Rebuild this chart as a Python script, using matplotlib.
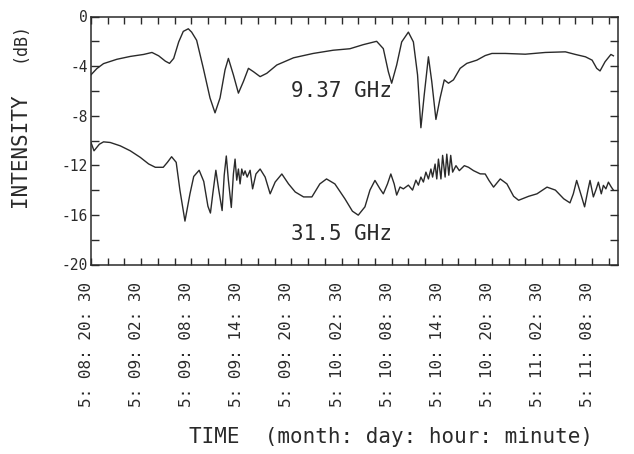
import matplotlib
matplotlib.use('Agg')
import matplotlib.pyplot as plt
import numpy as np

plt.rcParams['font.family'] = 'DejaVu Sans Mono'

# hours after 5:08:20:30, intensity in dB
hours_937 = [0, 0.7, 1.5, 3.1, 4.7, 6.3, 7.3, 8.1, 8.9, 9.4, 9.9, 10.5, 11.05, 11.65,
             12.05, 12.65, 13.45, 14.25, 14.85, 15.45, 16.05, 16.45, 17.05, 17.65,
             18.25, 18.85, 19.45, 20.25, 21.05, 22.25, 24.25, 26.6, 29.0, 31.0, 32.6,
             34.2, 35.0, 35.6, 36.0, 36.6, 37.2, 38.0, 38.6, 39.1, 39.5, 39.9, 40.4,
             40.8, 41.3, 41.8, 42.3, 42.8, 43.4, 44.2, 45.0, 46.2, 47.2, 48.0, 49.6,
             52.0, 54.4, 56.8, 58.0, 59.2, 60.0, 60.55, 60.95, 61.55, 62.25, 62.55]
db_937 = [-4.7, -4.2, -3.8, -3.45, -3.22, -3.06, -2.9, -3.17, -3.6, -3.78, -3.38, -2.05,
          -1.2, -0.99, -1.26, -1.92, -4.18, -6.57, -7.77, -6.57, -4.3, -3.38, -4.71,
          -6.18, -5.24, -4.18, -4.45, -4.85, -4.58, -3.91, -3.33, -2.98, -2.72, -2.6,
          -2.27, -2.0, -2.59, -4.45, -5.38, -3.91, -2.05, -1.26, -2.05, -4.71, -8.97,
          -6.31, -3.25, -5.24, -8.3, -6.57, -5.11, -5.38, -5.11, -4.18, -3.78, -3.52,
          -3.15, -2.98, -2.98, -3.04, -2.9, -2.85, -3.06, -3.25, -3.52, -4.18, -4.39,
          -3.65, -3.06, -3.17]

hours_315 = [0, 0.36, 1.0, 1.5, 2.3, 3.5, 4.7, 5.9, 6.9, 7.7, 8.65, 9.15, 9.65, 10.2,
             10.65, 11.25, 11.85, 12.3, 12.95, 13.5, 14.0, 14.3, 14.6, 14.95, 15.3,
             15.7, 15.95, 16.2, 16.45, 16.8, 17.05, 17.25, 17.45, 17.65, 17.85, 18.05,
             18.25, 18.45, 18.7, 19.05, 19.35, 19.75, 20.25, 20.85, 21.45, 22.05, 22.85,
             23.65, 24.45, 25.45, 26.45, 27.4, 28.2, 29.2, 30.4, 31.3, 32.0, 32.8, 33.4,
             34.0, 34.6, 35.0, 35.5, 35.9, 36.3, 36.6, 37.0, 37.4, 38.0, 38.5, 38.9,
             39.2, 39.5, 39.8, 40.1, 40.4, 40.7, 40.9, 41.2, 41.4, 41.6, 41.9, 42.1,
             42.4, 42.6, 42.84, 43.07, 43.3, 43.7, 44.1, 44.7, 45.2, 45.8, 46.6, 47.2,
             47.65, 48.2, 49.0, 49.8, 50.6, 51.2, 52.4, 53.4, 54.6, 55.6, 56.6, 57.35,
             57.75, 58.15, 58.75, 59.1, 59.5, 59.75, 60.15, 60.5, 60.75, 61.1, 61.35,
             61.65, 61.95, 62.3, 62.55]
db_315 = [-10.16, -10.83, -10.3, -10.11, -10.16, -10.43, -10.83, -11.36, -11.89, -12.16,
          -12.16, -11.76, -11.31, -11.76, -14.02, -16.5, -14.3, -12.9, -12.4, -13.3,
          -15.3, -15.85, -14.2, -12.4, -14.0, -15.65, -12.8, -11.25, -13.2, -15.4,
          -12.7, -11.5, -13.2, -12.3, -13.5, -12.3, -12.8, -12.45, -12.95, -12.4,
          -13.9, -12.7, -12.3, -12.95, -14.3, -13.35, -12.7, -13.5, -14.15, -14.55,
          -14.55, -13.5, -13.1, -13.5, -14.7, -15.7, -16.02, -15.35, -14.0, -13.22,
          -13.9, -14.3, -13.5, -12.7, -13.5, -14.4, -13.75, -13.9, -13.6, -14.0,
          -13.2, -13.6, -12.95, -13.35, -12.55, -13.1, -12.3, -12.95, -11.9, -13.1,
          -11.5, -13.1, -11.2, -12.95, -11.1, -12.8, -11.2, -12.55, -12.03, -12.43,
          -12.03, -12.16, -12.43, -12.69, -12.7, -13.22, -13.76, -13.1, -13.5, -14.5,
          -14.82, -14.5, -14.3, -13.76, -14.0, -14.7, -15.03, -14.3, -13.22, -14.55,
          -15.35, -14.0, -13.22, -14.55, -13.9, -13.36, -14.3, -13.62, -13.9, -13.36,
          -13.76, -14.0]

tick_labels = ['5: 08: 20: 30', '5: 09: 02: 30', '5: 09: 08: 30', '5: 09: 14: 30',
               '5: 09: 20: 30', '5: 10: 02: 30', '5: 10: 08: 30', '5: 10: 14: 30',
               '5: 10: 20: 30', '5: 11: 02: 30', '5: 11: 08: 30']

ink = '#2a2a2a'

fig = plt.figure(figsize=(6.34, 4.54), dpi=100)
ax = fig.add_axes([91 / 634, 1 - 264.5 / 454, 527 / 634, 248 / 454])

ax.plot(hours_937, db_937, color=ink, lw=1.0)
ax.plot(hours_315, db_315, color=ink, lw=1.0)

ax.text(24.0, -6.0, '9.37 GHz', fontsize=15, va='center', ha='left', color=ink)
ax.text(24.0, -17.5, '31.5 GHz', fontsize=15, va='center', ha='left', color=ink)

ax.set_xlim(0, 63.1)
ax.set_ylim(-20, 0)

ax.set_xticks(np.arange(0, 61, 6))
ax.set_xticks(np.arange(0, 63, 2), minor=True)
ax.set_xticklabels(tick_labels, rotation=90, ha='right', va='baseline',
                   rotation_mode='anchor', fontsize=11.5, color=ink)
ax.set_yticks(np.arange(-20, 1, 4))
ax.set_yticks(np.arange(-20, 1, 2), minor=True)
ax.set_yticklabels(['-20', '-16', '-12', '-8', '-4', '0'], fontsize=10.5, color=ink)

ax.tick_params(axis='both', which='both', direction='in', top=True, right=True,
               width=1.0, color=ink)
ax.tick_params(axis='x', which='both', length=5, pad=12.5)
ax.tick_params(axis='y', which='both', length=6, pad=2.5)

for s in ax.spines.values():
    s.set_linewidth(1.1)
    s.set_color(ink)

fig.text(20 / 634, 1 - 150 / 454, 'INTENSITY', rotation=90, ha='center',
         va='center', fontsize=15, color=ink)
fig.text(20 / 634, 1 - 42 / 454, '(dB)', rotation=90, ha='center',
         va='center', fontsize=12, color=ink)
fig.text(391 / 634, 1 - 437 / 454, 'TIME  (month: day: hour: minute)', ha='center',
         va='center', fontsize=15, color=ink)

fig.savefig('out.png', dpi=100)
